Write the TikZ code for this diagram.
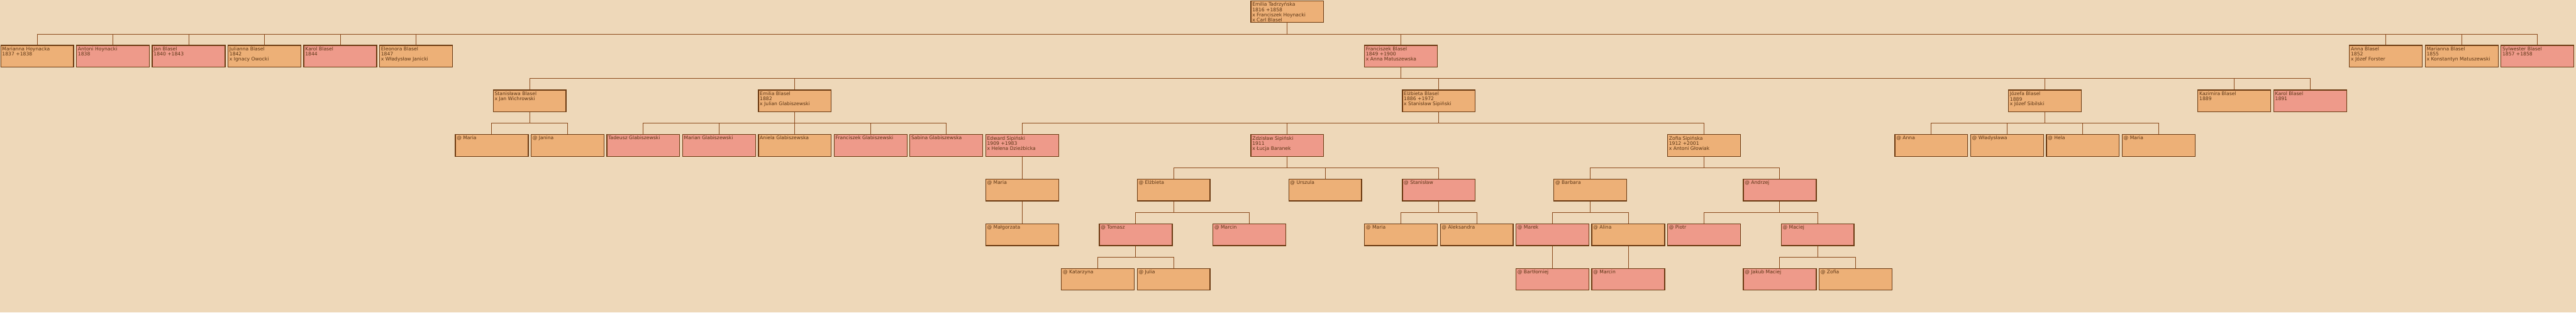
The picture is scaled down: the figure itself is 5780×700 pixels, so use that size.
\documentclass[tikz,border=0pt]{standalone}
\usepackage{fontspec}
\newfontfamily\pfont{DejaVu Sans}
\definecolor{bg}{HTML}{EED8B9}
\definecolor{fcol}{HTML}{EDB077}
\definecolor{mcol}{HTML}{EE9A8A}
\definecolor{brd}{HTML}{6B3A12}
\definecolor{lin}{HTML}{8B4A1C}
\definecolor{txt}{HTML}{5A3414}
\newcommand{\ptx}[1]{\parbox[t][42pt][t]{157pt}{\raggedright\strut #1}}
\tikzset{
  person/.style={draw=brd, line width=1.8pt, anchor=north west, minimum width=163.5pt, minimum height=48.5pt,
    inner xsep=3pt, inner ysep=3.3pt, text=txt, font={\pfont\fontsize{10.8pt}{11.1pt}\selectfont}},
  fem/.style={person, fill=fcol},
  mal/.style={person, fill=mcol},
  conn/.style={draw=lin, line width=1.3pt}
}
\newcommand{\kids}[2]{\foreach \c in {#2}{\draw[conn] (#1.south) -- ++(0,25) -| (\c.north);}}
\begin{document}
\begin{tikzpicture}[x=1pt,y=-1pt]
\fill[bg] (0,0) rectangle (5780,700);
\useasboundingbox (0,0) rectangle (5780,700);
% row 0
\node[fem] (r) at (2805.75,0.75) {\ptx{Emilia Tadrzyńska\\*1816 +1858\\x Franciszek Hoynacki\\x Carl Blasel}};
% row 1
\node[fem] (a1) at (0.75,100.75) {\ptx{Marianna Hoynacka\\*1837 +1838}};
\node[mal] (a2) at (170.75,100.75) {\ptx{Antoni Hoynacki\\*1838}};
\node[mal] (a3) at (340.75,100.75) {\ptx{Jan Blasel\\*1840 +1843}};
\node[fem] (a4) at (510.75,100.75) {\ptx{Julianna Blasel\\*1842\\x Ignacy Owocki}};
\node[mal] (a5) at (680.75,100.75) {\ptx{Karol Blasel\\*1844}};
\node[fem] (a6) at (850.75,100.75) {\ptx{Eleonora Blasel\\*1847\\x Władysław Janicki}};
\node[mal] (a7) at (3060.75,100.75) {\ptx{Franciszek Blasel\\*1849 +1900\\x Anna Matuszewska}};
\node[fem] (a8) at (5270.75,100.75) {\ptx{Anna Blasel\\*1852\\x Józef Forster}};
\node[fem] (a9) at (5440.75,100.75) {\ptx{Marianna Blasel\\*1855\\x Konstantyn Matuszewski}};
\node[mal] (a10) at (5610.75,100.75) {\ptx{Sylwester Blasel\\*1857 +1858}};
% row 2
\node[fem] (b1) at (1105.75,200.75) {\ptx{Stanisława Blasel\\x Jan Wichrowski}};
\node[fem] (b2) at (1700.75,200.75) {\ptx{Emilia Blasel\\*1882\\x Julian Glabiszewski}};
\node[fem] (b3) at (3145.75,200.75) {\ptx{Elżbieta Blasel\\*1886 +1972\\x Stanisław Sipiński}};
\node[fem] (b4) at (4505.75,200.75) {\ptx{Józefa Blasel\\*1889\\x Józef Sibilski}};
\node[fem] (b5) at (4930.75,200.75) {\ptx{Kazimira Blasel\\*1889}};
\node[mal] (b6) at (5100.75,200.75) {\ptx{Karol Blasel\\*1891}};
% row 3
\node[fem] (c1) at (1020.75,300.75) {\ptx{@ Maria}};
\node[fem] (c2) at (1190.75,300.75) {\ptx{@ Janina}};
\node[mal] (c3) at (1360.75,300.75) {\ptx{Tadeusz Glabiszewski}};
\node[mal] (c4) at (1530.75,300.75) {\ptx{Marian Glabiszewski}};
\node[fem] (c5) at (1700.75,300.75) {\ptx{Aniela Glabiszewska}};
\node[mal] (c6) at (1870.75,300.75) {\ptx{Franciszek Glabiszewski}};
\node[mal] (c7) at (2040.75,300.75) {\ptx{Sabina Glabiszewska}};
\node[mal] (c8) at (2210.75,300.75) {\ptx{Edward Sipiński\\*1909 +1983\\x Helena Dzieżbicka}};
\node[mal] (c9) at (2805.75,300.75) {\ptx{Zdzisław Sipiński\\*1911\\x Łucja Baranek}};
\node[fem] (c10) at (3740.75,300.75) {\ptx{Zofia Sipińska\\*1912 +2001\\x Antoni Głowiak}};
\node[fem] (c11) at (4250.75,300.75) {\ptx{@ Anna}};
\node[fem] (c12) at (4420.75,300.75) {\ptx{@ Władysława}};
\node[fem] (c13) at (4590.75,300.75) {\ptx{@ Hela}};
\node[fem] (c14) at (4760.75,300.75) {\ptx{@ Maria}};
% row 4
\node[fem] (d1) at (2210.75,400.75) {\ptx{@ Maria}};
\node[fem] (d2) at (2550.75,400.75) {\ptx{@ Elżbieta}};
\node[fem] (d3) at (2890.75,400.75) {\ptx{@ Urszula}};
\node[mal] (d4) at (3145.75,400.75) {\ptx{@ Stanisław}};
\node[fem] (d5) at (3485.75,400.75) {\ptx{@ Barbara}};
\node[mal] (d6) at (3910.75,400.75) {\ptx{@ Andrzej}};
% row 5
\node[fem] (e1) at (2210.75,500.75) {\ptx{@ Małgorzata}};
\node[mal] (e2) at (2465.75,500.75) {\ptx{@ Tomasz}};
\node[mal] (e3) at (2720.75,500.75) {\ptx{@ Marcin}};
\node[fem] (e4) at (3060.75,500.75) {\ptx{@ Maria}};
\node[fem] (e5) at (3230.75,500.75) {\ptx{@ Aleksandra}};
\node[mal] (e6) at (3400.75,500.75) {\ptx{@ Marek}};
\node[fem] (e7) at (3570.75,500.75) {\ptx{@ Alina}};
\node[mal] (e8) at (3740.75,500.75) {\ptx{@ Piotr}};
\node[mal] (e9) at (3995.75,500.75) {\ptx{@ Maciej}};
% row 6
\node[fem] (f1) at (2380.75,600.75) {\ptx{@ Katarzyna}};
\node[fem] (f2) at (2550.75,600.75) {\ptx{@ Julia}};
\node[mal] (f3) at (3400.75,600.75) {\ptx{@ Bartłomiej}};
\node[mal] (f4) at (3570.75,600.75) {\ptx{@ Marcin}};
\node[mal] (f5) at (3910.75,600.75) {\ptx{@ Jakub Maciej}};
\node[fem] (f6) at (4080.75,600.75) {\ptx{@ Zofia}};
% connectors
\kids{r}{a1,a2,a3,a4,a5,a6,a7,a8,a9,a10}
\kids{a7}{b1,b2,b3,b4,b5,b6}
\kids{b1}{c1,c2}
\kids{b2}{c3,c4,c5,c6,c7}
\kids{b3}{c8,c9,c10}
\kids{b4}{c11,c12,c13,c14}
\kids{c8}{d1}
\kids{c9}{d2,d3,d4}
\kids{c10}{d5,d6}
\kids{d1}{e1}
\kids{d2}{e2,e3}
\kids{d4}{e4,e5}
\kids{d5}{e6,e7}
\kids{d6}{e8,e9}
\kids{e2}{f1,f2}
\kids{e6}{f3}
\kids{e7}{f4}
\kids{e9}{f5,f6}
\end{tikzpicture}
\end{document}
